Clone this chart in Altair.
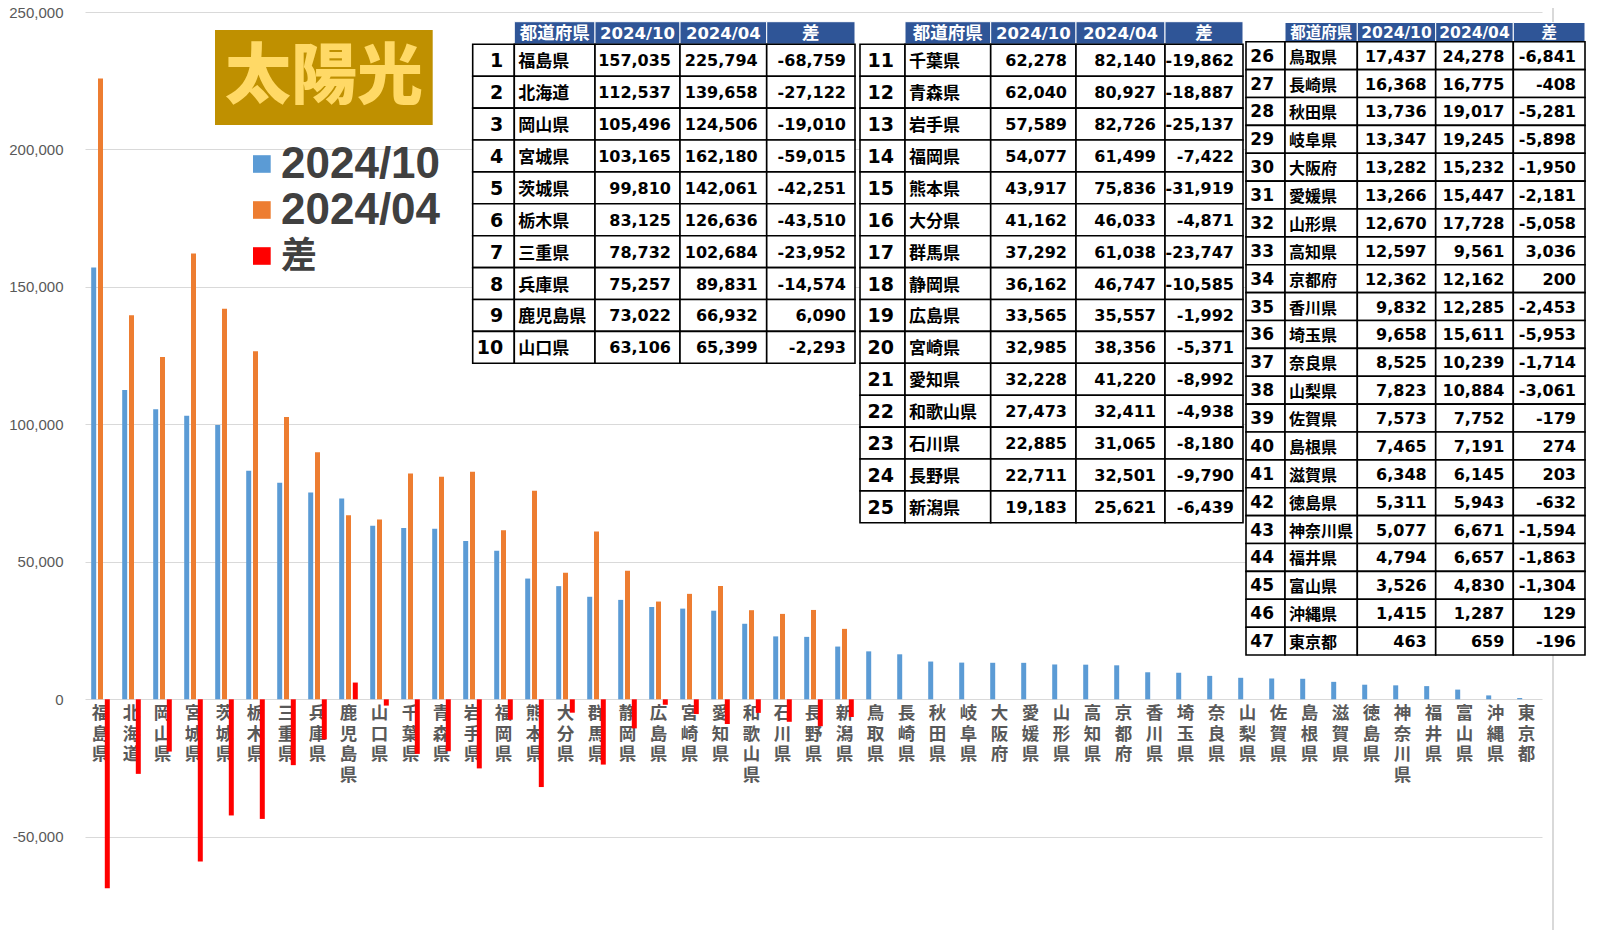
import altair as alt
import pandas as pd

# ---------------- data ----------------
prefs = ["福島県", "北海道", "岡山県", "宮城県", "茨城県", "栃木県", "三重県", "兵庫県", "鹿児島県", "山口県",
         "千葉県", "青森県", "岩手県", "福岡県", "熊本県", "大分県", "群馬県", "静岡県", "広島県", "宮崎県",
         "愛知県", "和歌山県", "石川県", "長野県", "新潟県", "鳥取県", "長崎県", "秋田県", "岐阜県", "大阪府",
         "愛媛県", "山形県", "高知県", "京都府", "香川県", "埼玉県", "奈良県", "山梨県", "佐賀県", "島根県",
         "滋賀県", "徳島県", "神奈川県", "福井県", "富山県", "沖縄県", "東京都"]
oct_vals = [157035, 112537, 105496, 103165, 99810, 83125, 78732, 75257, 73022, 63106,
            62278, 62040, 57589, 54077, 43917, 41162, 37292, 36162, 33565, 32985,
            32228, 27473, 22885, 22711, 19183, 17437, 16368, 13736, 13347, 13282,
            13266, 12670, 12597, 12362, 9832, 9658, 8525, 7823, 7573, 7465,
            6348, 5311, 5077, 4794, 3526, 1415, 463]
apr_vals = [225794, 139658, 124506, 162180, 142061, 126636, 102684, 89831, 66932, 65399,
            82140, 80927, 82726, 61499, 75836, 46033, 61038, 46747, 35557, 38356,
            41220, 32411, 31065, 32501, 25621, 24278, 16775, 19017, 19245, 15232,
            15447, 17728, 9561, 12162, 12285, 15611, 10239, 10884, 7752, 7191,
            6145, 5943, 6671, 6657, 4830, 1287, 659]
diff_vals = [-68759, -27122, -19010, -59015, -42251, -43510, -23952, -14574, 6090, -2293,
             -19862, -18887, -25137, -7422, -31919, -4871, -23747, -10585, -1992, -5371,
             -8992, -4938, -8180, -9790, -6439, -6841, -408, -5281, -5898, -1950,
             -2181, -5058, 3036, 200, -2453, -5953, -1714, -3061, -179, 274,
             203, -632, -1594, -1863, -1304, 129, -196]
series = ["2024/10", "2024/04", "差"]
colors = ["#5B9BD5", "#ED7D31", "#FF0000"]
y_ticks = [-50000, 0, 50000, 100000, 150000, 200000, 250000]
headers = ["都道府県", "2024/10", "2024/04", "差"]
title_text = "太陽光"
N_FULL = 25  # prefectures drawn with all three series

# ---------------- layout ----------------
PLOT_W, PLOT_H = 1457, 918
PAD_L, PAD_T, PAD_R = 77, 4, 50
Y_MIN, Y_MAX = -83915, 250000
X0 = 8 + PAD_L
Y0 = 8 + PAD_T
GRID = "#D9D9D9"
TXT = "#595959"
HEAD_BLUE = "#2F5597"

# ---------------- main chart ----------------
rows = []
for i, p in enumerate(prefs):
    rows.append({"pref": p, "series": series[0], "value": oct_vals[i]})
    if i < N_FULL:
        rows.append({"pref": p, "series": series[1], "value": apr_vals[i]})
        rows.append({"pref": p, "series": series[2], "value": diff_vals[i]})
bars_df = pd.DataFrame(rows)
labels_df = pd.DataFrame({"pref": prefs, "vlabel": ["\n".join(p) for p in prefs]})

x_enc = alt.X("pref:N", sort=prefs, axis=None,
              scale=alt.Scale(paddingInner=0, paddingOuter=0))
y_scale = alt.Scale(domain=[Y_MIN, Y_MAX], nice=False, zero=False)
y_axis = alt.Axis(values=y_ticks, title=None, domain=False, ticks=False,
                  labelExpr="(datum.value < 0 ? '-' : '') + format(abs(datum.value), ',')",
                  labelColor=TXT, labelFont="Liberation Sans", labelFontSize=15,
                  labelPadding=22, grid=True, gridColor=GRID, gridWidth=1.2)
color_scale = alt.Scale(domain=series, range=colors)

xlabels = alt.Chart(labels_df).mark_text(
    lineBreak="\n", baseline="top", align="center", font="Noto Sans CJK JP",
    fontWeight="bold", fontSize=17.5, lineHeight=20.5, color=TXT, dy=6
).encode(x=x_enc, y=alt.YDatum(0, scale=y_scale, axis=y_axis), text="vlabel:N")

bars = alt.Chart(bars_df).mark_bar().encode(
    x=x_enc,
    xOffset=alt.XOffset("series:N", sort=series,
                        scale=alt.Scale(domain=series, paddingInner=0.265, paddingOuter=0.912)),
    y=alt.Y("value:Q", scale=y_scale, axis=y_axis),
    color=alt.Color("series:N", scale=color_scale, legend=None),
)

main = alt.layer(xlabels, bars)

# ---------------- overlay (page-pixel scales) ----------------
ox = alt.Scale(domain=[X0, X0 + PLOT_W], range=[0, PLOT_W])
oy = alt.Scale(domain=[Y0, Y0 + PLOT_H], range=[0, PLOT_H])


def X(f):
    return alt.X(f, type="quantitative", scale=ox, axis=None)


def Y(f):
    return alt.Y(f, type="quantitative", scale=oy, axis=None)


layers = []

# chart frame right edge
frame_df = pd.DataFrame({"x": [1553], "y0": [8], "y1": [930]})
layers.append(alt.Chart(frame_df).mark_rule(color=GRID, strokeWidth=2).encode(
    x=X("x"), y=Y("y0"), y2="y1"))

# title box
title_df = pd.DataFrame({"text": [title_text], "x0": [215], "x1": [432.7], "y0": [30], "y1": [125],
                         "xc": [324], "yc": [78]})
layers.append(alt.Chart(title_df).mark_rect(fill="#BF9000").encode(
    x=X("x0"), x2="x1", y=Y("y0"), y2="y1"))
layers.append(alt.Chart(title_df).mark_text(
    font="Noto Sans CJK JP", fontWeight=900, fontSize=66, color="#FFD966",
    align="center", baseline="middle").encode(x=X("xc"), y=Y("yc"), text="text:N"))

# legend
leg_df = pd.DataFrame({"series": series, "i": [0, 1, 2]})
leg_df["yc"] = 164 + 46 * leg_df["i"]
leg_df["y0"] = leg_df["yc"] - 8.8
leg_df["y1"] = leg_df["yc"] + 8.8
leg_df["x0"] = 253
leg_df["x1"] = 270.7
leg_df["xt"] = 281
layers.append(alt.Chart(leg_df).mark_rect().encode(
    x=X("x0"), x2="x1", y=Y("y0"), y2="y1",
    color=alt.Color("series:N", scale=color_scale, legend=None)))
layers.append(alt.Chart(leg_df[leg_df.i < 2]).mark_text(
    font="Liberation Sans", fontWeight="bold", fontSize=44, color="#404040",
    align="left", baseline="middle", dy=1).encode(x=X("xt"), y=Y("yc"), text="series:N"))
layers.append(alt.Chart(leg_df[leg_df.i == 2]).mark_text(
    font="Noto Sans CJK JP", fontWeight="bold", fontSize=36, color="#404040",
    align="left", baseline="middle", dy=1).encode(x=X("xt"), y=Y("yc"), text="series:N"))

# tables
TABLES = [
    {"r": (1, 10), "cols": [472.7, 514.3, 595, 680, 766.7, 855], "head": (21.7, 44.3), "rh": 31.9,
     "num_fs": 16, "name_fs": 17, "rank_fs": 19, "head_fs": 16.5, "headc_fs": 17.5},
    {"r": (11, 25), "cols": [860, 905, 990.7, 1076, 1165, 1243], "head": (21.7, 44.3), "rh": 31.9,
     "num_fs": 16, "name_fs": 17, "rank_fs": 19, "head_fs": 16.5, "headc_fs": 17.5},
    {"r": (26, 47), "cols": [1246, 1285, 1357.3, 1435.7, 1513.3, 1585], "head": (22.5, 41.7), "rh": 27.88,
     "num_fs": 16, "name_fs": 16, "rank_fs": 17, "head_fs": 15.5, "headc_fs": 15.5},
]


def fmt(v):
    return f"{v:,}"


for T in TABLES:
    a, b = T["r"]
    cols = T["cols"]
    ht, hb = T["head"]
    rh = T["rh"]
    # header cells
    hd = pd.DataFrame({"text": headers,
                       "x0": cols[1:5], "x1": cols[2:6]})
    hd["y0"] = ht
    hd["y1"] = hb
    hd["xc"] = (hd["x0"] + hd["x1"]) / 2
    hd["yc"] = (ht + hb) / 2
    layers.append(alt.Chart(hd).mark_rect(fill=HEAD_BLUE, stroke="#FFFFFF", strokeWidth=1).encode(
        x=X("x0"), x2="x1", y=Y("y0"), y2="y1"))
    layers.append(alt.Chart(hd[hd.text.isin(["2024/10", "2024/04"])]).mark_text(
        font="DejaVu Sans", fontWeight="bold", fontSize=T["head_fs"], color="white",
        align="center", baseline="middle", dy=1).encode(x=X("xc"), y=Y("yc"), text="text:N"))
    layers.append(alt.Chart(hd[~hd.text.isin(["2024/10", "2024/04"])]).mark_text(
        font="Noto Sans CJK JP", fontWeight="bold", fontSize=T["headc_fs"], color="white",
        align="center", baseline="middle", dy=1).encode(x=X("xc"), y=Y("yc"), text="text:N"))
    # body cells
    cells = []
    texts_num = []
    body = []
    for k, rank in enumerate(range(a, b + 1)):
        i = rank - 1
        y0 = hb + k * rh
        yc = y0 + rh / 2
        for c in range(5):
            cells.append({"x0": cols[c], "x1": cols[c + 1], "y0": y0, "y1": y0 + rh})
        body.append({"rank": str(rank), "pref": prefs[i], "yc": yc,
                     "xr": cols[1] - 11, "xn": cols[1] + 4})
        for c, v in zip((2, 3, 4), (oct_vals[i], apr_vals[i], diff_vals[i])):
            texts_num.append({"text": fmt(v), "x": cols[c + 1] - 9, "yc": yc})
    cdf = pd.DataFrame(cells)
    bdf = pd.DataFrame(body)
    ndf = pd.DataFrame(texts_num)
    layers.append(alt.Chart(cdf).mark_rect(fill="white", stroke="black", strokeWidth=1.6).encode(
        x=X("x0"), x2="x1", y=Y("y0"), y2="y1"))
    layers.append(alt.Chart(bdf).mark_text(
        font="DejaVu Sans", fontWeight="bold", fontSize=T["rank_fs"], color="black",
        align="right", baseline="middle", dy=1).encode(x=X("xr"), y=Y("yc"), text="rank:N"))
    layers.append(alt.Chart(bdf).mark_text(
        font="Noto Sans CJK JP", fontWeight="bold", fontSize=T["name_fs"], color="black",
        align="left", baseline="middle", dy=2).encode(x=X("xn"), y=Y("yc"), text="pref:N"))
    layers.append(alt.Chart(ndf).mark_text(
        font="DejaVu Sans", fontWeight="bold", fontSize=T["num_fs"], color="black",
        align="right", baseline="middle", dy=1).encode(x=X("x"), y=Y("yc"), text="text:N"))

overlay = alt.layer(*layers)

chart = alt.layer(main, overlay).resolve_scale(x="independent", y="independent").properties(
    width=PLOT_W, height=PLOT_H,
    padding={"left": PAD_L, "top": PAD_T, "right": PAD_R, "bottom": 0},
    autosize=alt.AutoSizeParams(type="none"),
).configure_view(strokeWidth=0)

chart.save("out.html", embed_options={"renderer": "svg", "actions": False})
